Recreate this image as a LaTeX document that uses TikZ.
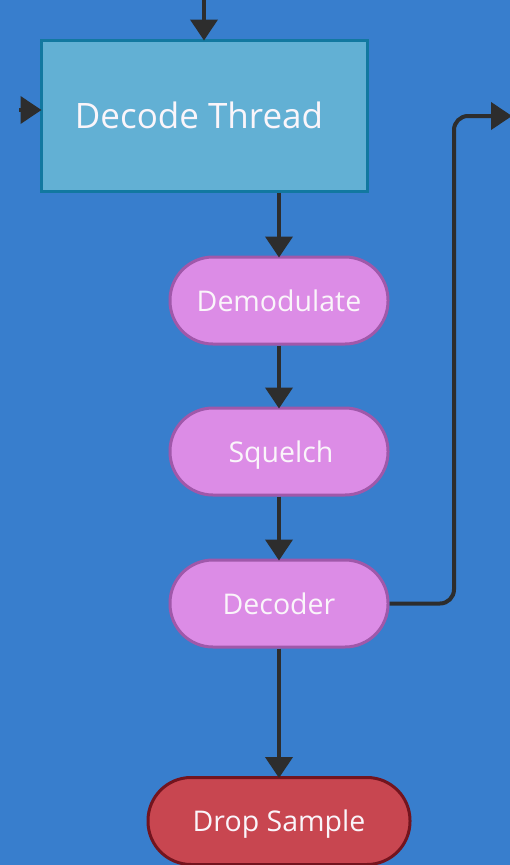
\documentclass[tikz,border=0pt]{standalone}
\usepackage{fontspec}
\setmainfont{Open Sans}
\usetikzlibrary{arrows.meta}
\definecolor{bgblue}{RGB}{56,126,205}
\definecolor{threadfill}{RGB}{98,176,212}
\definecolor{threadline}{RGB}{18,120,160}
\definecolor{stagefill}{RGB}{220,140,230}
\definecolor{stageline}{RGB}{160,88,170}
\definecolor{dropfill}{RGB}{200,70,80}
\definecolor{dropline}{RGB}{115,20,30}
\definecolor{wire}{RGB}{45,45,45}
\definecolor{labeltext}{RGB}{250,245,250}
\tikzset{
  x=1pt, y=-1pt,
  threadbox/.style={draw=threadline, fill=threadfill, line width=3pt,
    minimum width=326pt, minimum height=151pt, inner sep=0pt,
    text=labeltext, font=\fontsize{35}{40}\selectfont},
  stagebox/.style={draw=stageline, fill=stagefill, line width=3pt,
    rounded corners=43pt, minimum width=218pt, minimum height=87pt,
    inner sep=0pt, text=labeltext, font=\fontsize{28.5}{32}\selectfont,
    text height=27pt, text depth=6pt},
  dropbox/.style={stagebox, draw=dropline, fill=dropfill, minimum width=262pt},
  wire/.style={draw=wire, line width=4pt,
    -{Triangle[length=21pt,width=27pt]}, shorten >=-2pt},
}
\begin{document}
\begin{tikzpicture}
  \fill[bgblue] (0,0) rectangle (510,865);
  \useasboundingbox (0,0) rectangle (510,865);

  \node[threadbox] (thread) at (204,115.5) {\hspace*{-10pt}Decode Thread};
  \node[stagebox] (demod) at (279,300.5) {Demodulate};
  \node[stagebox] (squelch) at (279,451.5) {\hspace*{4pt}Squelch};
  \node[stagebox] (decoder) at (279,603.5) {Decoder};
  \node[dropbox] (drop) at (279,821) {Drop Sample};

  \coordinate (topin) at (204,0);
  \coordinate (leftin) at (19,110);
  \coordinate (rightout) at (510,116);

  \draw[wire] (topin) -- (thread.north);
  \draw[wire] (leftin) -- (thread.west |- leftin);
  \draw[wire] (thread.south -| demod.north) -- (demod.north);
  \draw[wire] (demod) -- (squelch.north);
  \draw[wire] (squelch) -- (decoder.north);
  \draw[wire] (decoder) -- (drop.north);
  \draw[wire, rounded corners=14pt]
    (decoder.east) -- (454,603.5) -- (454,116) -- (rightout);
\end{tikzpicture}
\end{document}
